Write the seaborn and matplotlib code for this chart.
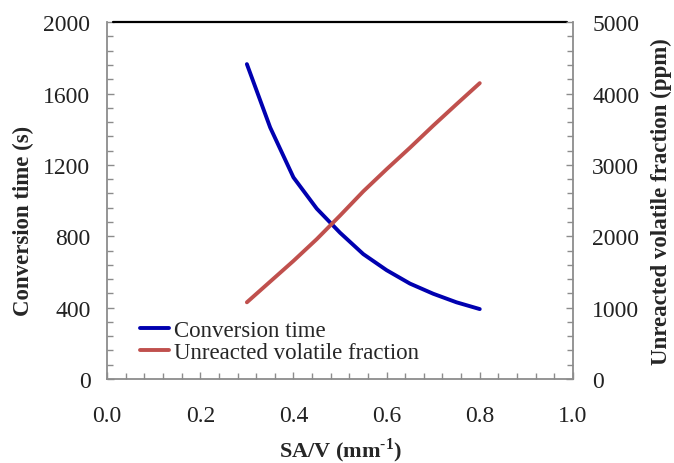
import matplotlib
matplotlib.use("Agg")
import matplotlib.pyplot as plt
import seaborn as sns
import pandas as pd
from matplotlib.ticker import MultipleLocator

sa_v = [0.30, 0.35, 0.40, 0.45, 0.50, 0.55, 0.60, 0.65, 0.70, 0.75, 0.80]
conversion_time = [1765, 1410, 1130, 955, 820, 700, 610, 535, 478, 430, 392]
unreacted_fraction = [1075, 1365, 1655, 1960, 2290, 2630, 2940, 3240, 3550, 3850, 4146]

x_ticks = [0.0, 0.2, 0.4, 0.6, 0.8, 1.0]
left_ticks = [0, 400, 800, 1200, 1600, 2000]
right_ticks = [0, 1000, 2000, 3000, 4000, 5000]

sns.set_theme(style="white")
plt.rcParams['font.family'] = ['Liberation Serif', 'DejaVu Serif']
plt.rcParams['mathtext.fontset'] = 'custom'
plt.rcParams['mathtext.rm'] = 'Liberation Serif'
plt.rcParams['mathtext.bf'] = 'Liberation Serif:bold'

df = pd.DataFrame({"x": sa_v, "ct": conversion_time, "uf": unreacted_fraction})

fig = plt.figure(figsize=(6.74, 4.64), dpi=100)
ax = fig.add_axes([0.159, 0.181, 0.691, 0.769])
ax2 = ax.twinx()

blue = "#0000B0"
red = "#C0504D"
sns.lineplot(data=df, x="x", y="ct", ax=ax, color=blue, lw=2.8, label="Conversion time", legend=False)
sns.lineplot(data=df, x="x", y="uf", ax=ax2, color=red, lw=2.8, label="Unreacted volatile fraction", legend=False)

ax.set_xlim(0, 1.0)
ax.set_ylim(0, 2000)
ax2.set_ylim(0, 5000)
ax.set_xticks(x_ticks)
ax.set_xticklabels([f"{v:.1f}" for v in x_ticks])
ax.set_yticks(left_ticks)
ax.set_yticklabels([str(v) for v in left_ticks])
ax2.set_yticks(right_ticks)
ax2.set_yticklabels([str(v) for v in right_ticks])
ax.xaxis.set_minor_locator(MultipleLocator(0.04))
ax.yaxis.set_minor_locator(MultipleLocator(80))
ax2.yaxis.set_minor_locator(MultipleLocator(200))

spine_c = "#8C8C8C"
for a in (ax, ax2):
    for s in a.spines.values():
        s.set_color(spine_c)
        s.set_linewidth(1.3)
    a.spines['top'].set_visible(False)
ax.spines['right'].set_visible(False)
ax2.spines['left'].set_visible(False)
ax2.spines['bottom'].set_visible(False)

fs = 17
ax.tick_params(axis='both', which='both', direction='in', color=spine_c, width=1.0, labelsize=fs)
ax.tick_params(axis='both', which='major', length=5)
ax.tick_params(axis='y', which='major', pad=12)
ax.tick_params(axis='x', which='major', pad=19)
ax.tick_params(axis='both', which='minor', length=4)
ax.tick_params(axis='y', which='both', right=False, left=True)
ax.tick_params(axis='x', which='both', top=False, bottom=True)
ax2.tick_params(axis='y', which='both', direction='in', color=spine_c, width=1.0, labelsize=fs, right=True, left=False)
ax2.tick_params(axis='y', which='major', length=5, pad=14)
ax2.tick_params(axis='y', which='minor', length=4)
for lab in ax.get_xticklabels() + ax.get_yticklabels() + ax2.get_yticklabels():
    lab.set_color("#222222")

ax.axhline(2000, xmin=0.013, xmax=0.987, color="black", lw=1.6, clip_on=False, zorder=5)

ax.set_xlabel("SA/V (mm$^{\\mathbf{\u2010}\\mathbf{1}}$)", fontsize=16, fontweight="bold")
ax.xaxis.set_label_coords(0.5, -0.158)
ax.set_ylabel("Conversion time (s)", fontsize=16.5, fontweight="bold")
ax.yaxis.set_label_coords(-0.157, 0.445)
ax2.set_ylabel("Unreacted volatile fraction (ppm)", fontsize=16.5, fontweight="bold")
ax2.yaxis.set_label_coords(1.168, 0.5)

h1, l1 = ax.get_legend_handles_labels()
h2, l2 = ax2.get_legend_handles_labels()
ax.legend(h1 + h2, l1 + l2, loc="lower left", bbox_to_anchor=(0.035, 0.0), frameon=False,
          fontsize=16.5, handlelength=1.3, handletextpad=0.2, labelspacing=0.05, borderaxespad=0.3)

fig.savefig("out.png", dpi=100)
